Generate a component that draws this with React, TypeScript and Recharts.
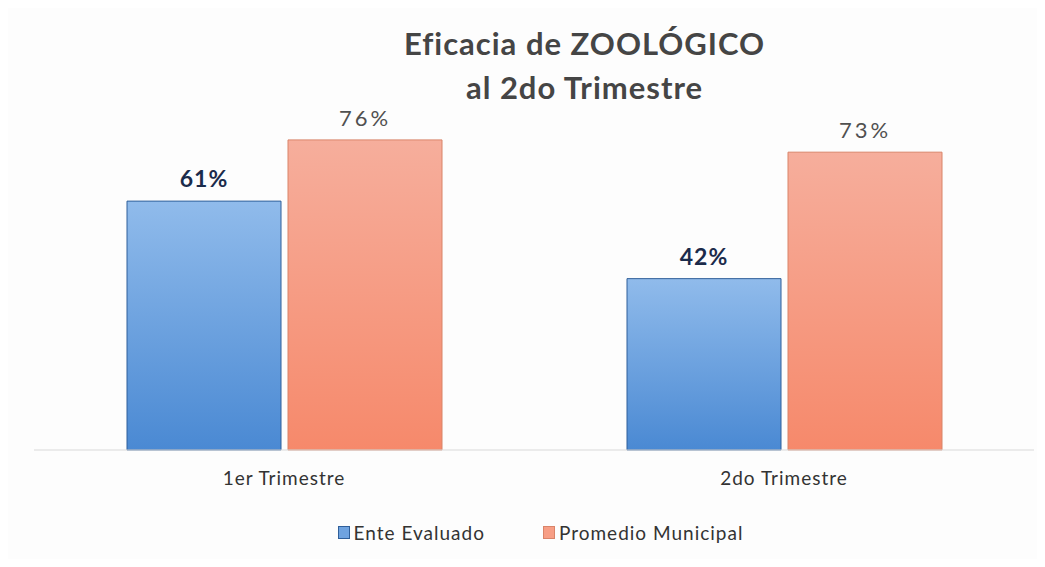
import { BarChart, Bar, XAxis, YAxis, LabelList } from 'recharts';

const categories = ['1er Trimestre', '2do Trimestre'];
const enteEvaluado = [61, 42];
const promedioMunicipal = [76, 73];

const data = categories.map((name, i) => ({
  name,
  ente: enteEvaluado[i],
  promedio: promedioMunicipal[i],
}));

const FONT = 'Lato, "Open Sans", sans-serif';

const makeLabel = (color: string, weight: number, size: number, spacing: number) => (props: any) => {
  const { x, y, width, value } = props;
  return (
    <text
      x={x + width / 2}
      y={y - 14}
      textAnchor="middle"
      fill={color}
      fontFamily={FONT}
      fontSize={size}
      fontWeight={weight}
      letterSpacing={spacing}
    >
      {`${value}%`}
    </text>
  );
};

export default function App() {
  return (
    <div
      style={{
        position: 'relative',
        width: 1045,
        height: 567,
        margin: -8,
        background: '#fdfdfd',
        fontFamily: FONT,
        overflow: 'hidden',
      }}
    >
      <div
        style={{
          position: 'absolute',
          top: 21,
          left: 0,
          width: 1045,
          paddingLeft: 124,
          boxSizing: 'border-box',
          textAlign: 'center',
          color: '#454545',
          fontSize: 31,
          fontWeight: 700,
          letterSpacing: 1,
          lineHeight: '44px',
        }}
      >
        <div>Eficacia de ZOOLÓGICO</div>
        <div>al 2do Trimestre</div>
      </div>
      <BarChart
        width={1045}
        height={567}
        data={data}
        margin={{ top: 42, right: 11, bottom: 77, left: 34 }}
        barCategoryGap={93}
        barGap={7}
        style={{ position: 'absolute', top: 0, left: 0 }}
      >
        <defs>
          <linearGradient id="gBlue" x1="0" y1="0" x2="0" y2="1">
            <stop offset="0%" stopColor="#90bbeb" />
            <stop offset="100%" stopColor="#4a89d3" />
          </linearGradient>
          <linearGradient id="gOrange" x1="0" y1="0" x2="0" y2="1">
            <stop offset="0%" stopColor="#f6ae9c" />
            <stop offset="100%" stopColor="#f6896b" />
          </linearGradient>
        </defs>
        <YAxis hide domain={[0, 100]} />
        <XAxis
          dataKey="name"
          height={40}
          axisLine={{ stroke: '#d9d9d9' }}
          tickLine={false}
          tick={{ fill: '#333333', fontSize: 19, fontFamily: FONT, letterSpacing: 1 }}
          tickMargin={16}
        />
        <Bar
          dataKey="ente"
          name="Ente Evaluado"
          fill="url(#gBlue)"
          stroke="#2f5f9a"
          strokeWidth={1}
          barSize={154}
          isAnimationActive={false}
        >
          <LabelList dataKey="ente" content={makeLabel('#1b2b4b', 700, 23, 1)} />
        </Bar>
        <Bar
          dataKey="promedio"
          name="Promedio Municipal"
          fill="url(#gOrange)"
          stroke="#d98469"
          strokeWidth={1}
          barSize={154}
          isAnimationActive={false}
        >
          <LabelList dataKey="promedio" content={makeLabel('#505050', 400, 22, 3)} />
        </Bar>
      </BarChart>
      <div
        style={{
          position: 'absolute',
          top: 521,
          left: 0,
          width: 1045,
          display: 'flex',
          justifyContent: 'center',
          paddingLeft: 36,
          boxSizing: 'border-box',
          gap: 58,
          fontSize: 19,
          color: '#333333',
        }}
      >
        {[
          { label: 'Ente Evaluado', bg: '#6fa3e0', border: '#2f5f9a' },
          { label: 'Promedio Municipal', bg: '#f79e85', border: '#d98469' },
        ].map((it) => (
          <div key={it.label} style={{ display: 'flex', alignItems: 'center', gap: 4 }}>
            <span
              style={{
                display: 'inline-block',
                width: 10,
                height: 11,
                background: it.bg,
                border: `1px solid ${it.border}`,
              }}
            />
            <span style={{ letterSpacing: 1 }}>{it.label}</span>
          </div>
        ))}
      </div>
    </div>
  );
}
